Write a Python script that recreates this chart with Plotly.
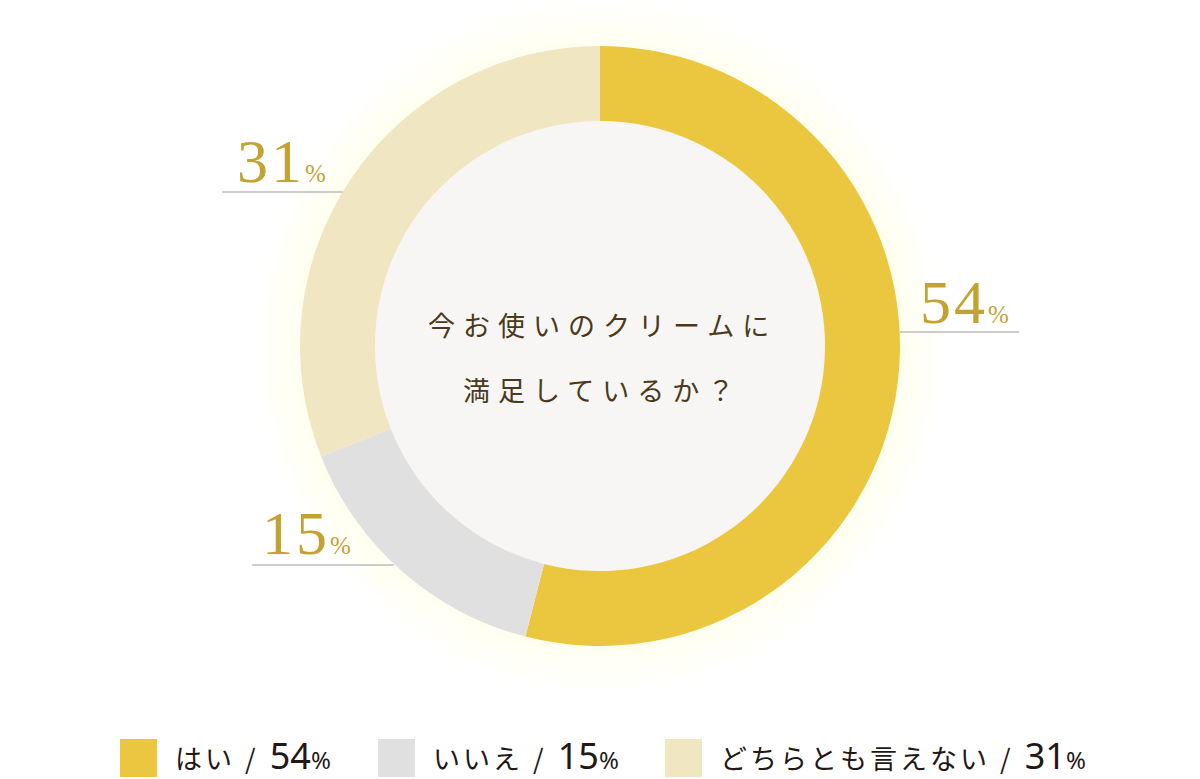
import plotly.graph_objects as go

# Survey result: 今お使いのクリームに満足しているか？
labels = ["はい", "いいえ", "どちらとも言えない"]
values = [54, 15, 31]
colors = ["#ebc73f", "#e0e0e0", "#f0e6c2"]

question_lines = ["今お使いのクリームに", "満足しているか？"]

W, H = 1200, 779
cx, cy = 600, 346  # donut centre in px
r_out, r_in = 300, 225


def px(x):
    return x / W


def py(y):
    return 1 - y / H


fig = go.Figure(
    go.Pie(
        labels=labels,
        values=values,
        sort=False,
        direction="clockwise",
        rotation=0,
        hole=r_in / r_out,
        marker=dict(colors=colors, line=dict(width=0)),
        textinfo="none",
        hoverinfo="label+percent",
        showlegend=False,
        domain=dict(
            x=[px(cx - r_out), px(cx + r_out)],
            y=[py(cy + r_out), py(cy - r_out)],
        ),
    )
)

shapes = []
# soft yellow glow round the ring
for k in range(16):
    r = r_out + 3 * k
    shapes.append(
        dict(
            type="circle", xref="paper", yref="paper", layer="below",
            x0=px(cx - r), x1=px(cx + r), y0=py(cy + r), y1=py(cy - r),
            fillcolor="rgba(238,222,150,0.013)", line=dict(width=0),
        )
    )
# centre disc
shapes.append(
    dict(
        type="circle", xref="paper", yref="paper", layer="below",
        x0=px(cx - r_in), x1=px(cx + r_in), y0=py(cy + r_in), y1=py(cy - r_in),
        fillcolor="#f7f6f4", line=dict(width=0),
    )
)

annotations = []
# centre question
for line, y in zip(question_lines, [324, 389]):
    annotations.append(
        dict(
            x=px(cx + 2), y=py(y), xref="paper", yref="paper",
            text=f"<span style='letter-spacing:8px'>{line}</span>",
            showarrow=False, xanchor="center", yanchor="middle",
            font=dict(family="Noto Sans CJK JP", size=27, color="#4a3a1a"),
        )
    )

# outside value labels with underline
label_pos = [(918, 302, 900, 1019, 332), (260, 533, 252, 394, 565), (235, 161, 222, 343, 192)]
for v, (tx, ty, lx0, lx1, ly) in zip(values, label_pos):
    annotations.append(
        dict(
            x=px(tx), y=py(ty), xref="paper", yref="paper",
            text=f"<span style='letter-spacing:3px'>{v}</span>"
                 "<span style='font-size:25px'>%</span>",
            showarrow=False, xanchor="left", yanchor="middle",
            font=dict(family="Liberation Serif", size=62, color="#c4a232"),
        )
    )
    shapes.append(
        dict(
            type="line", xref="paper", yref="paper",
            x0=px(lx0), x1=px(lx1), y0=py(ly), y1=py(ly),
            line=dict(color="#bdbdbd", width=1.5),
        )
    )

# custom legend
legend_x = [120, 378, 665]
for lab, v, c, lx in zip(labels, values, colors, legend_x):
    shapes.append(
        dict(
            type="rect", xref="paper", yref="paper",
            x0=px(lx), x1=px(lx + 37), y0=py(777), y1=py(739),
            fillcolor=c, line=dict(width=0),
        )
    )
    annotations.append(
        dict(
            x=px(lx + 53), y=py(755), xref="paper", yref="paper",
            text=f"<span style='letter-spacing:3px'>{lab}</span>"
                 "<span style='letter-spacing:4px'> / </span>"
                 f"<span style='font-family:Noto Sans;font-size:36px'>{v}</span>"
                 "<span style='font-family:Noto Sans;font-size:24px'>%</span>",
            showarrow=False, xanchor="left", yanchor="middle",
            font=dict(family="Noto Sans CJK JP", size=27, color="#231815"),
        )
    )

fig.update_layout(
    width=W,
    height=H,
    margin=dict(l=0, r=0, t=0, b=0),
    paper_bgcolor="white",
    plot_bgcolor="white",
    shapes=shapes,
    annotations=annotations,
)

fig.write_html(
    "out.html",
    config={"displayModeBar": False},
    post_script="document.body.style.margin='0';",
)
